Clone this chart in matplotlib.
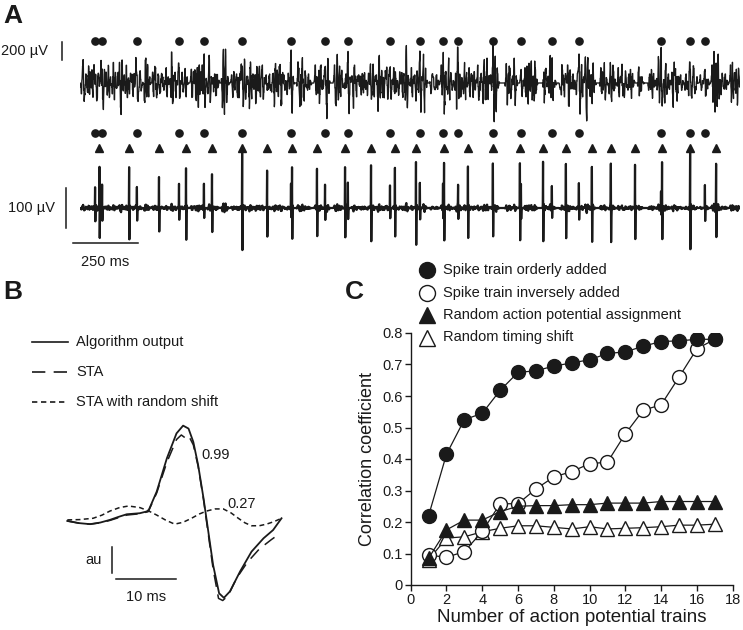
import numpy as np
import matplotlib
matplotlib.use("Agg")
import matplotlib.pyplot as plt
from matplotlib.lines import Line2D

plt.rcParams['font.family'] = ['Liberation Sans', 'DejaVu Sans']

W, H = 743, 630

# %% Panel A data (times in ms, amplitudes in uV)
# spike train marked with dots
orderly_times = [58, 85, 219, 381, 477, 624, 812, 943, 1031, 1193, 1308, 1397,
                 1455, 1589, 1697, 1816, 1920, 2236, 2348, 2405]
orderly_amp_top = [255, 255, 265, 220, 255, 330, 265, 265, 330, 180, 255, 235,
                   255, 400, 150, 235, 345, 345, 330, 300]
orderly_amp_bot = [60, 64, 58, 62, 60, 30, 58, 61, 63, 57, 60, 64,
                   59, 30, 60, 58, 63, 40, 30, 62]
# spike train marked with triangles
tri_times = [75, 189, 304, 408, 508, 624, 720, 816, 912, 1020, 1120, 1212, 1293,
             1401, 1493, 1589, 1693, 1782, 1870, 1970, 2043, 2136, 2240, 2348, 2448]
tri_amp = [104, 104, 79, 104, 83, 121, 96, 104, 96, 104, 108, 104, 121,
           108, 104, 83, 112, 117, 108, 108, 112, 108, 112, 117, 104]

# other units in the top recording
bg_units = [
    (200, 0, [12, 80, 151, 215, 290, 352, 428, 497, 560, 633, 701, 769, 842, 905, 979,
              1046, 1117, 1180, 1255, 1322, 1390, 1461, 1530, 1597, 1671, 1736, 1809,
              1876, 1944, 2017, 2085, 2152, 2226, 2291, 2364, 2432, 2503]),
    (-170, 1, [33, 109, 178, 260, 331, 404, 470, 551, 620, 690, 772, 838, 911, 990, 1060,
               1128, 1207, 1275, 1350, 1418, 1497, 1566, 1640, 1712, 1785, 1860, 1930,
               2004, 2071, 2150, 2219, 2296, 2362, 2440, 2510]),
    (150, 2, [47, 130, 202, 281, 367, 445, 522, 604, 676, 761, 843, 921, 1001, 1080, 1163,
              1240, 1323, 1402, 1481, 1560, 1644, 1722, 1803, 1880, 1961, 2043, 2120,
              2201, 2280, 2362, 2441, 2522]),
    (-120, 0, [5, 66, 124, 190, 247, 309, 373, 430, 492, 556, 611, 676, 737, 797, 862, 921,
               985, 1046, 1106, 1170, 1228, 1293, 1352, 1415, 1476, 1539, 1601, 1660, 1725,
               1786, 1848, 1910, 1971, 2036, 2095, 2160, 2219, 2283, 2342, 2405, 2467, 2530]),
    (240, 1, [58, 158, 249, 350, 455, 548, 652, 748, 851, 950, 1052, 1147, 1252, 1350, 1449,
              1551, 1650, 1748, 1852, 1950, 2049, 2152, 2250, 2348, 2452]),
    (-100, 2, [22, 92, 144, 229, 300, 385, 462, 515, 590, 663, 727, 810, 877, 945, 1021,
               1093, 1150, 1228, 1305, 1370, 1445, 1515, 1590, 1668, 1747, 1820, 1895,
               1972, 2048, 2110, 2190, 2262, 2330, 2409, 2481]),
    (90, 0, [38, 100, 170, 233, 318, 392, 441, 512, 583, 645, 716, 784, 858, 930, 1009,
             1072, 1140, 1213, 1288, 1360, 1428, 1508, 1580, 1651, 1727, 1795, 1870, 1945,
             2010, 2090, 2160, 2240, 2311, 2387, 2455, 2525]),
]
# action potential shapes, one value per step
shapes = [
    [0.1, 0.4, 1.0, -0.2, -0.9, -0.5, 0.3, 0.2, -0.1],
    [0.2, -0.3, -1.0, 0.6, 0.9, -0.2, -0.4, 0.1],
    [0.3, 0.8, -0.6, -1.0, 0.5, 0.7, -0.3, -0.2, 0.2, 0.1],
]
shape_orderly_top = [0.2, 0.6, 1.0, -0.3, -1.0, -0.4, 0.2, 0.1]
shape_orderly_bot = [0.1, 1.0, -0.45, -0.1]
shape_tri = [0.08, 1.0, -0.72, -0.15, 0.05]
duration_ms = 2540

# %% Panel B data (ms, au)
t_alg = [0, 1.9, 3.8, 5.5, 7.1, 8.5, 9.9, 12.1, 13.5, 14.9, 16.6, 18.2, 19.3, 20.2, 21.0,
         21.8, 22.7, 23.5, 24.3, 25.3, 26.1, 27.1, 28.8, 30.7, 32.7, 34.3, 35.7]
v_alg = [0, -0.08, -0.12, -0.06, 0.04, 0.15, 0.25, 0.29, 0.37, 1.10, 2.35, 3.28, 3.57, 3.46,
         2.96, 2.10, 0.85, -0.40, -1.65, -2.71, -2.88, -2.64, -1.89, -1.15, -0.65, -0.34, 0.10]
t_sta = [0, 1.9, 3.8, 5.5, 7.1, 8.5, 9.9, 12.1, 13.5, 14.9, 16.6, 18.2, 19.0, 19.6, 20.2,
         21.0, 21.8, 22.7, 23.5, 24.3, 25.2, 25.9, 26.8, 28.2, 30.0, 32.0, 34.0, 35.5]
v_sta = [0, -0.08, -0.12, -0.07, 0.02, 0.12, 0.22, 0.27, 0.35, 1.05, 2.2, 3.05, 3.22, 3.12,
         3.2, 2.85, 2.05, 0.8, -0.5, -1.8, -2.9, -2.98, -2.8, -2.15, -1.55, -1.05, -0.7, -0.46]
t_shift = [0, 2.0, 4.3, 5.8, 7.1, 8.7, 10.2, 12.1, 13.5, 14.9, 16.4, 17.9, 19.3, 20.7, 22.0,
           23.2, 24.6, 26.0, 27.3, 28.5, 29.6, 30.7, 32.0, 33.2, 34.5, 35.7]
v_shift = [0.04, 0.05, 0.10, 0.22, 0.37, 0.50, 0.56, 0.50, 0.38, 0.22, 0.03, -0.12, -0.05, 0.10,
           0.26, 0.37, 0.45, 0.45, 0.30, 0.10, -0.07, -0.18, -0.18, -0.12, -0.02, 0.10]

# %% Panel C data
n_trains = list(range(1, 18))
cc_orderly = [0.22, 0.415, 0.525, 0.545, 0.618, 0.675, 0.68, 0.695, 0.705, 0.715, 0.735,
              0.74, 0.758, 0.773, 0.775, 0.78, 0.78]
cc_inverse = [0.095, 0.088, 0.106, 0.17, 0.258, 0.258, 0.305, 0.343, 0.36, 0.385, 0.39,
              0.48, 0.555, 0.572, 0.66, 0.75, 0.78]
cc_rand_assign = [0.085, 0.175, 0.206, 0.206, 0.233, 0.25, 0.252, 0.252, 0.255, 0.255,
                  0.26, 0.26, 0.26, 0.265, 0.265, 0.265, 0.265]
cc_rand_shift = [0.08, 0.149, 0.153, 0.169, 0.18, 0.188, 0.188, 0.183, 0.178, 0.185,
                 0.178, 0.18, 0.182, 0.185, 0.19, 0.19, 0.193]


def place(sig, times, amps, shape, lead=2, step=1):
    # add one action potential shape per spike time (1 ms per sample)
    shape = np.repeat(np.asarray(shape, dtype=float), step)
    for t, a in zip(times, amps):
        i = int(round(t)) - lead * step
        for k, s in enumerate(shape):
            if 0 <= i + k < len(sig):
                sig[i + k] += a * s
    return sig


def px_axes(fig, x0, y0, x1, y1):
    return fig.add_axes([x0 / W, 1 - y1 / H, (x1 - x0) / W, (y1 - y0) / H])


fig = plt.figure(figsize=(W / 100, H / 100), dpi=100)
ink = '#1a1a1a'

# background of the top recording
n = duration_ms + 1
t_ms = np.arange(n)
bg = np.zeros(n)
for amp, si, times in bg_units:
    place(bg, times, [amp] * len(times), shapes[si], step=2)

top = bg.copy()
place(top, orderly_times, orderly_amp_top, shape_orderly_top, step=2)

bot = 0.03 * bg
place(bot, tri_times, tri_amp, shape_tri, lead=1)
place(bot, orderly_times, orderly_amp_bot, shape_orderly_bot, lead=1)

# %% Panel A, top trace
axa = px_axes(fig, 80, 25, 740, 130)
axa.plot(t_ms, top, color=ink, lw=0.95)
axa.plot(orderly_times, [467] * len(orderly_times), 'o', color=ink, ms=5.2)
axa.set_xlim(0, duration_ms)
axa.set_ylim(-522, 644)
axa.axis('off')
axa.plot([-69, -69], [256, 456], color=ink, lw=1.1, clip_on=False)
axa.text(-123, 356, '200 µV', ha='right', va='center', fontsize=10.5, color=ink)

# %% Panel A, bottom trace
axb = px_axes(fig, 80, 120, 740, 290)
axb.plot(t_ms, bot, color=ink, lw=1.6)
axb.plot(orderly_times, [187.5] * len(orderly_times), 'o', color=ink, ms=5.2)
axb.plot(tri_times, [150] * len(tri_times), '^', color=ink, ms=5.5)
axb.set_xlim(0, duration_ms)
axb.set_ylim(-205, 220)
axb.axis('off')
axb.plot([-54, -54], [-50, 50], color=ink, lw=1.1, clip_on=False)
axb.text(-96, 0, '100 µV', ha='right', va='center', fontsize=10.5, color=ink)
axb.plot([-28, 222], [-87.5, -87.5], color=ink, lw=1.1, clip_on=False)
axb.text(97, -135, '250 ms', ha='center', va='center', fontsize=10.5, color=ink)

# %% Panel B
axB = px_axes(fig, 40, 400, 300, 620)
axB.plot(t_shift, v_shift, color=ink, lw=1.1, dashes=(3.2, 2.2))
axB.plot(t_sta, v_sta, color=ink, lw=1.1, dashes=(8, 5))
axB.plot(t_alg, v_alg, color=ink, lw=1.3)
axB.set_xlim(-4.55, 38.78)
axB.set_ylim(-3.71, 4.53)
axB.axis('off')
axB.plot([7.4, 7.4], [-1.96, -0.96], color=ink, lw=1.1)
axB.plot([8.1, 18.1], [-2.17, -2.17], color=ink, lw=1.1)
axB.text(13.1, -2.85, '10 ms', ha='center', va='center', fontsize=10.5, color=ink)
axB.text(5.8, -1.46, 'au', ha='right', va='center', fontsize=10.5, color=ink)
axB.text(22.4, 2.47, '0.99', ha='left', va='center', fontsize=10.5, color=ink)
axB.text(26.6, 0.62, '0.27', ha='left', va='center', fontsize=10.5, color=ink)

# %% Panel C
axC = px_axes(fig, 410.7, 333, 732.7, 585)
axC.plot(n_trains, cc_rand_shift, '-^', color=ink, mfc='white', mec=ink, ms=10.5, mew=1.0, lw=0.9)
axC.plot(n_trains, cc_inverse, '-o', color=ink, mfc='white', mec=ink, ms=10, mew=1.0, lw=0.9)
axC.plot(n_trains, cc_rand_assign, '-^', color=ink, mfc=ink, mec=ink, ms=10.5, mew=1.0, lw=0.9)
axC.plot(n_trains, cc_orderly, '-o', color=ink, mfc=ink, mec=ink, ms=10, mew=1.0, lw=0.9)
axC.set_xlim(0, 18)
axC.set_ylim(0, 0.8)
axC.set_xticks(range(0, 19, 2))
axC.set_yticks(np.arange(0, 0.81, 0.1))
axC.set_yticklabels(['0'] + ['%.1f' % v for v in np.arange(0.1, 0.81, 0.1)])
axC.spines['top'].set_visible(False)
axC.spines['right'].set_visible(False)
for s in ('left', 'bottom'):
    axC.spines[s].set_linewidth(1.0)
    axC.spines[s].set_color(ink)
axC.tick_params(direction='out', length=4, width=1.0, labelsize=10.5, colors=ink, pad=2)
axC.set_xlabel('Number of action potential trains', fontsize=13.5, color=ink, labelpad=1)
axC.set_ylabel('Correlation coefficient', fontsize=13, color=ink, labelpad=4)

# %% Overlay for panel letters and legends (pixel coordinates)
ov = fig.add_axes([0, 0, 1, 1])
ov.set_xlim(0, W)
ov.set_ylim(H, 0)
ov.axis('off')
for lab, (x, y) in zip('ABC', [(3, 16), (3, 292), (345, 292)]):
    ov.text(x, y, lab, fontsize=19, fontweight='bold', ha='left', va='center', color=ink)

leg_b = [('Algorithm output', None), ('STA', (8, 5)), ('STA with random shift', (3.2, 2.2))]
for i, (txt, ds) in enumerate(leg_b):
    y = 342 + 30 * i
    ln = Line2D([32, 68], [y, y], color=ink, lw=1.2)
    if ds is not None:
        ln.set_dashes(ds)
    ov.add_line(ln)
    ov.text(76, y, txt, fontsize=10.5, ha='left', va='center', color=ink)

leg_c = [('Spike train orderly added', 'o', ink), ('Spike train inversely added', 'o', 'white'),
         ('Random action potential assignment', '^', ink), ('Random timing shift', '^', 'white')]
for i, (txt, mk, fc) in enumerate(leg_c):
    y = 270 + 22.5 * i
    ov.plot([427], [y], mk, mfc=fc, mec=ink, ms=11.5, mew=1.0)
    ov.text(443, y, txt, fontsize=10.5, ha='left', va='center', color=ink)

fig.savefig('out.png', dpi=100)
